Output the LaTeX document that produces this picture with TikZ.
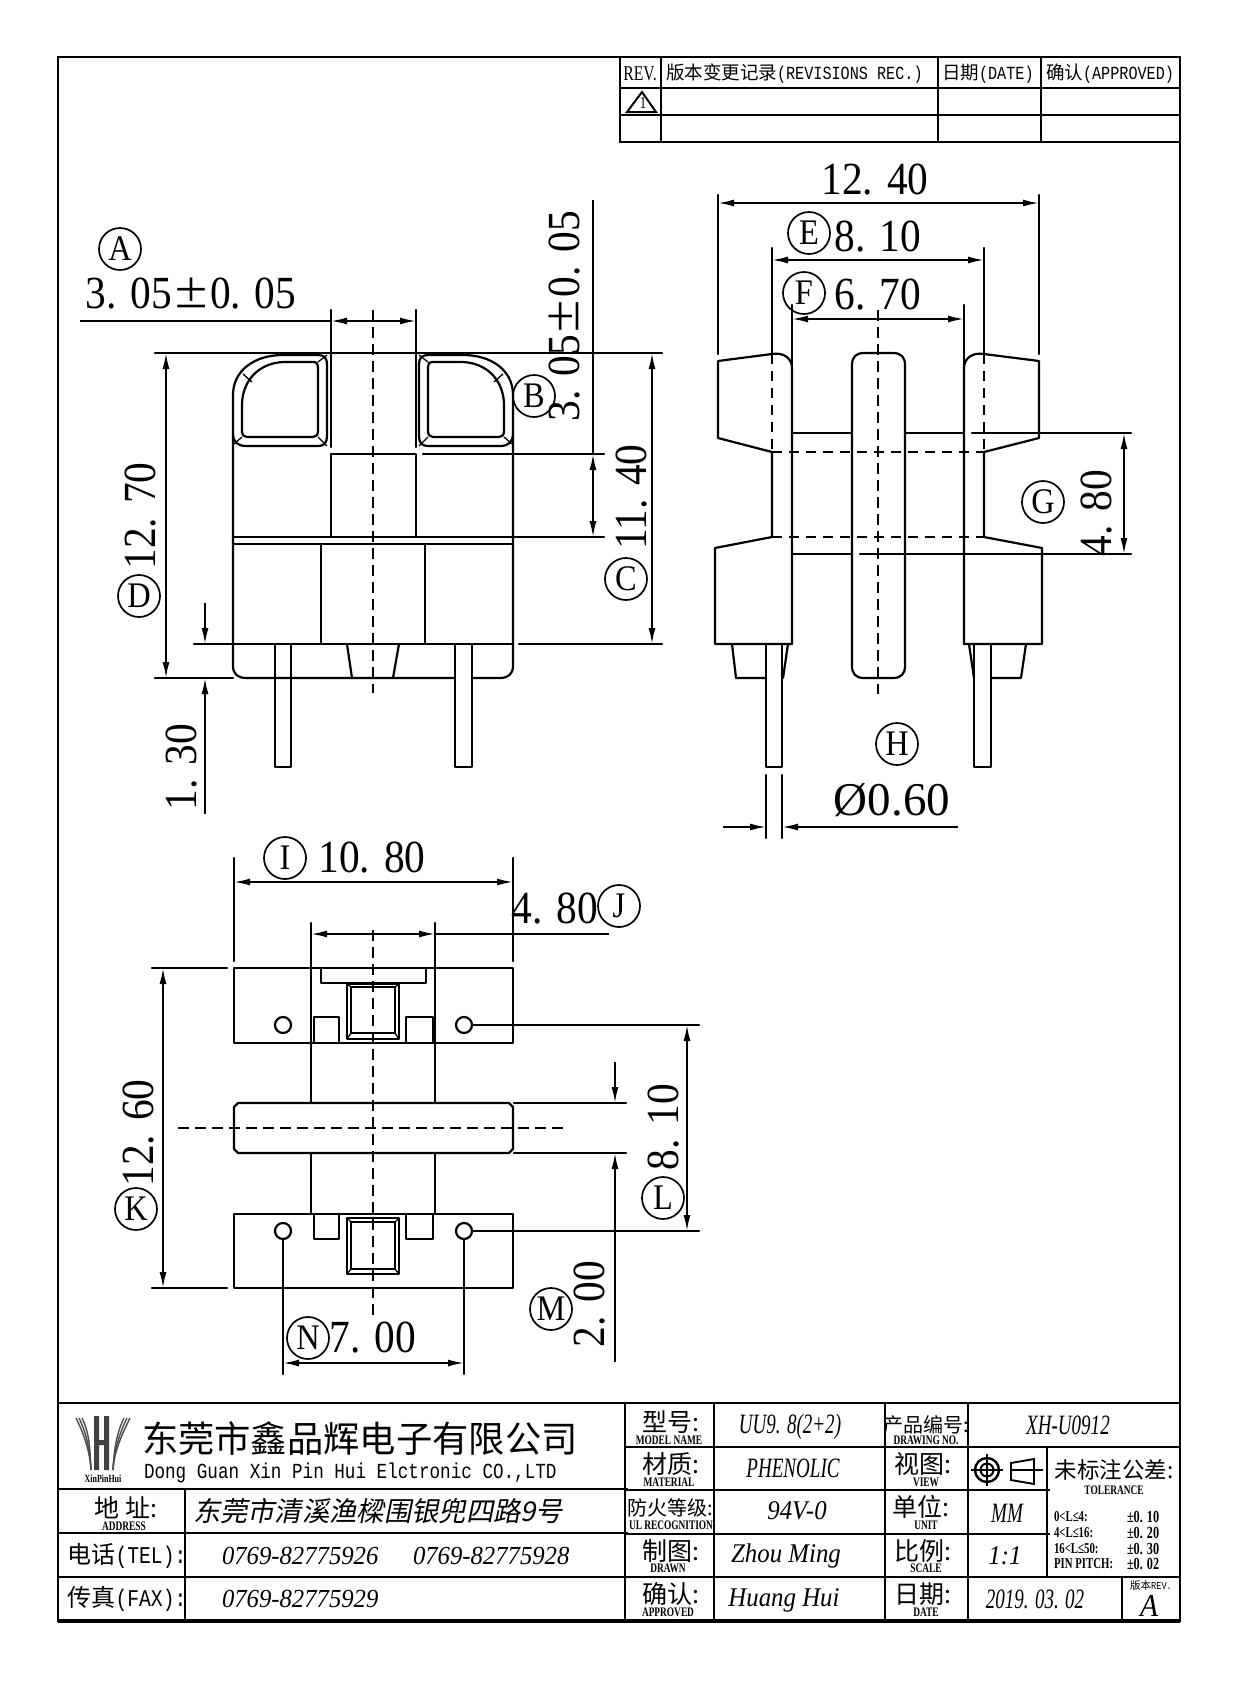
\documentclass[tikz,border=0pt]{standalone}
\usepackage{fontspec}
\usetikzlibrary{arrows.meta}
\setmainfont{Liberation Serif}
\newfontfamily\dimf[FakeStretch=0.9]{Liberation Serif}
\newfontfamily\cjkf{Noto Sans CJK SC}
\newfontfamily\cjki[FakeSlant=0.2]{Noto Sans CJK SC}
\newfontfamily\cmon[FakeStretch=0.82]{Liberation Mono}
\newfontfamily\cser[FakeStretch=0.75]{Liberation Serif}
\newfontfamily\cserb[FakeStretch=0.72]{Liberation Serif Bold}
\newfontfamily\cit[FakeStretch=0.92]{Liberation Serif Italic}
\newfontfamily\citn[FakeStretch=0.68]{Liberation Serif Italic}
\newfontfamily\telf[FakeStretch=0.95]{Liberation Serif Italic}
\newcommand{\fsz}[1]{\fontsize{#1}{#1}\selectfont}
\newcommand{\wpm}{{\cjkf\fsz{38}±}}
\tikzset{
  >={Latex[length=16pt,width=7pt]},
  part/.style={line width=2.2pt,line cap=round,line join=round},
  thin part/.style={line width=1.3pt,line join=round},
  dimline/.style={line width=1.8pt},
  cline/.style={line width=1.8pt,dash pattern=on 11pt off 6pt},
  hid/.style={line width=2pt,dash pattern=on 10pt off 7pt},
  grid/.style={line width=2.4pt},
  lbl/.style={inner sep=0pt,outer sep=0pt},
  dimt/.style={lbl,font=\dimf\fsz{46}},
  circ/.style={draw,circle,minimum size=42pt,inner sep=0pt,line width=1.7pt,font=\dimf\fsz{36}},
  cnh/.style={lbl,font=\cjkf\fsz{25}},
  sm/.style={lbl,font=\cserb\fsz{13}},
  itv/.style={lbl,font=\cit\fsz{27}},
  itn/.style={lbl,font=\citn\fsz{28}},
  tel/.style={lbl,anchor=west,font=\telf\fsz{26}},
  rv/.style={lbl,anchor=west,font=\cjkf\fsz{18.5}},
  tol/.style={lbl,anchor=west,font=\cserb\fsz{15}},
  tolr/.style={lbl,anchor=west,font=\cserb\fsz{17}},
  hole/.style={draw,circle,line width=2.2pt,minimum size=16pt,inner sep=0pt}
}
\begin{document}
\begin{tikzpicture}[x=1pt,y=-1pt]
\useasboundingbox (0,0) rectangle (1240,1682);
\fill[white] (0,0) rectangle (1240,1682);
% frame
\draw[line width=2.8pt] (58,57) rectangle (1180,1621);
\draw[line width=4.5pt] (58,1621) -- (1180,1621);
% revision table
\draw[grid] (620,57) -- (620,142) -- (1180,142);
\draw[grid] (620,88) -- (1180,88) (620,115) -- (1180,115);
\draw[grid] (661,57) -- (661,142) (938,57) -- (938,142) (1041,57) -- (1041,142);
\node[lbl,font=\cser\fsz{21}] (rv0) at (640,74) {REV.};
\node[rv] (rv1) at (666,74) {版本变更记录{\cmon(REVISIONS REC.)}};
\node[rv] (rv2) at (942,74) {日期{\cmon(DATE)}};
\node[rv] (rv3) at (1046,74) {确认{\cmon(APPROVED)}};
\draw[line width=2pt] (642,92) -- (627,112) -- (656,112) -- cycle;
\node[lbl,font=\cser\fsz{17}] (rv4) at (643,103) {1};
% ---- front view
\draw[cline] (373,310) -- (373,693);
\draw[part] (331,310) -- (331,447) (416,310) -- (416,447);
\draw[dimline,<->] (331,321) -- (416,321);
\draw[dimline] (80,321) -- (331,321);
\draw[part] (155,353) -- (662,353);
\draw[part] (233,395) .. controls (233,370) and (255,355) .. (283,355) -- (318,355) .. controls (324,355) and (327,358) .. (327,364) -- (327,436) .. controls (327,443) and (324,446) .. (318,446) -- (246,446) .. controls (238,446) and (233,442) .. (233,434);
\draw[part] (242,405) .. controls (242,380) and (260,362) .. (285,362) -- (313,362) .. controls (317,362) and (318,364) .. (318,367) -- (318,431) .. controls (318,435) and (316,437) .. (313,437) -- (247,437) .. controls (244,437) and (242,435) .. (242,431) -- cycle;
\draw[thin part] (318,362) -- (327,355) (318,437) -- (327,446) (242,437) -- (234,444) (252,382) -- (243,374);
\begin{scope}[xscale=-1,xshift=-746pt]
\draw[part] (233,395) .. controls (233,370) and (255,355) .. (283,355) -- (318,355) .. controls (324,355) and (327,358) .. (327,364) -- (327,436) .. controls (327,443) and (324,446) .. (318,446) -- (246,446) .. controls (238,446) and (233,442) .. (233,434);
\draw[part] (242,405) .. controls (242,380) and (260,362) .. (285,362) -- (313,362) .. controls (317,362) and (318,364) .. (318,367) -- (318,431) .. controls (318,435) and (316,437) .. (313,437) -- (247,437) .. controls (244,437) and (242,435) .. (242,431) -- cycle;
\draw[thin part] (318,362) -- (327,355) (318,437) -- (327,446) (242,437) -- (234,444) (252,382) -- (243,374);
\end{scope}
\draw[part] (233,395) -- (233,666) .. controls (233,674) and (238,678) .. (246,678) -- (455,678);
\draw[part] (513,395) -- (513,666) .. controls (513,674) and (508,678) .. (500,678) -- (472,678);
\draw[part] (331,537) -- (331,454) -- (416,454) -- (416,537);
\draw[part] (423,454) -- (604,454);
\draw[part] (233,537) -- (604,537);
\draw[part] (233,544) -- (513,544);
\draw[part] (321,544) -- (321,644) (425,544) -- (425,644);
\draw[part] (194,644) -- (513,644) (519,644) -- (662,644);
\draw[part] (155,678) -- (233,678);
\draw[part] (275,644) -- (275,767) -- (291,767) -- (291,644);
\draw[part] (455,644) -- (455,767) -- (472,767) -- (472,644);
\draw[part] (347,644) -- (352,678) (399,644) -- (393,678);
% dims front
\draw[dimline,<->] (166,353) -- (166,678);
\draw[dimline,->] (205,603) -- (205,644);
\draw[dimline,<-] (205,678) -- (205,814);
\draw[dimline] (593,200) -- (593,454);
\draw[dimline,<->] (593,454) -- (593,537);
\draw[dimline,<->] (652,353) -- (652,644);
\node[circ] (ca) at (120,249) {A};
\node[dimt] (ta) at (191,294) {3. 05\wpm0. 05};
\node[circ] (cb) at (534,396) {B};
\node[dimt,rotate=90] (tb) at (565,316) {3. 05\wpm0. 05};
\node[circ] (cc) at (626,579) {C};
\node[dimt,rotate=90] (tc) at (632,497) {11. 40};
\node[circ] (cd) at (139,596) {D};
\node[dimt,rotate=90] (td) at (141,516) {12. 70};
\node[dimt,rotate=90] (te) at (182,767) {1. 30};
% ---- side view
\draw[cline] (878,310) -- (878,694);
\draw[part] (718,195) -- (718,354) (1039,195) -- (1039,354);
\draw[part] (772,248) -- (772,354) (984,248) -- (984,354);
\draw[part] (792,305) -- (792,366) (964,305) -- (964,366);
\draw[dimline,<->] (718,203) -- (1039,203);
\draw[dimline,<->] (772,260) -- (984,260);
\draw[dimline,<->] (792,319) -- (964,319);
% flanges
\draw[part] (772,452) -- (718,438) -- (718,361) -- (772,354) .. controls (783,352) and (792,358) .. (792,368) -- (792,644);
\draw[part] (984,452) -- (1039,438) -- (1039,361) -- (984,354) .. controls (973,352) and (964,358) .. (964,368) -- (964,644);
\draw[part] (772,452) -- (772,537) -- (715,548) -- (715,644) -- (792,644);
\draw[part] (984,452) -- (984,537) -- (1042,548) -- (1042,644) -- (964,644);
\draw[hid] (772,354) -- (772,452) (984,354) -- (984,452);
\draw[hid] (772,452) -- (984,452) (772,537) -- (984,537);
\draw[part] (852,365) .. controls (852,357) and (856,353) .. (864,353) -- (893,353) .. controls (901,353) and (905,357) .. (905,365) -- (905,666) .. controls (905,674) and (901,678) .. (893,678) -- (864,678) .. controls (856,678) and (852,674) .. (852,666) -- cycle;
\draw[part] (792,433) -- (852,433) (905,433) -- (964,433) (972,433) -- (1131,433);
\draw[part] (792,554) -- (852,554) (860,554) -- (1131,554);
\draw[part] (732,644) -- (736,678) -- (766,678) (788,644) -- (783,678);
\draw[part] (1026,644) -- (1021,678) -- (991,678) (969,644) -- (974,678);
\draw[part] (766,644) -- (766,767) -- (782,767) -- (782,644);
\draw[part] (974,644) -- (974,767) -- (991,767) -- (991,644);
\draw[dimline,<->] (1124,433) -- (1124,554);
\draw[part] (766,775) -- (766,838) (782,775) -- (782,838);
\draw[dimline,->] (723,827) -- (766,827);
\draw[dimline,<-] (782,827) -- (958,827);
\node[dimt] (t1240) at (875,180) {12. 40};
\node[circ] (ce) at (809,233) {E};
\node[dimt] (t810) at (878,237) {8. 10};
\node[circ] (cf) at (804,293) {F};
\node[dimt] (t670) at (878,295) {6. 70};
\node[circ] (cg) at (1043,502) {G};
\node[dimt,rotate=90] (t480) at (1097,513) {4. 80};
\node[circ] (ch) at (897,744) {H};
\node[lbl,font=\fsz{47}] (t060) at (892,800) {Ø0.60};
% ---- top view
\draw[cline] (373,930) -- (373,1321);
\draw[cline] (178,1128) -- (568,1128);
\draw[part] (234,968) rectangle (513,1043);
\draw[part] (234,1214) rectangle (513,1288);
\draw[part] (238,1103) -- (509,1103) -- (513,1107) -- (513,1149) -- (509,1153) -- (238,1153) -- (234,1149) -- (234,1107) -- cycle;
\draw[part] (311,923) -- (311,1103) (435,923) -- (435,1103);
\draw[part] (311,1153) -- (311,1214) (435,1153) -- (435,1214);
\draw[part] (321,968) -- (321,983) -- (426,983) -- (426,968);
\draw[part] (347,984) rectangle (399,1039);
\draw[part] (351,987) rectangle (395,1033);
\draw[thin part] (347,984) -- (351,987) (399,984) -- (395,987) (347,1039) -- (351,1033) (399,1039) -- (395,1033);
\draw[part] (347,1218) rectangle (399,1274);
\draw[part] (351,1222) rectangle (395,1269);
\draw[thin part] (347,1218) -- (351,1222) (399,1218) -- (395,1222) (347,1274) -- (351,1269) (399,1274) -- (395,1269);
\draw[part] (314,1043) -- (314,1017) -- (339,1017) -- (339,1043);
\draw[part] (406,1043) -- (406,1017) -- (433,1017) -- (433,1043);
\draw[part] (314,1214) -- (314,1239) -- (339,1239) -- (339,1214);
\draw[part] (406,1214) -- (406,1239) -- (433,1239) -- (433,1214);
\node[hole] (h1) at (283,1025) {};
\node[hole] (h2) at (464,1025) {};
\node[hole] (h3) at (283,1231) {};
\node[hole] (h4) at (464,1231) {};
\coordinate (r1) at (699,1025);
\coordinate (r2) at (699,1231);
\draw[part] (h2) -- (r1) (h4) -- (r2);
\draw[part] (h3) -- (283,1374) (h4) -- (464,1374);
\draw[part] (234,858) -- (234,961) (513,858) -- (513,961);
\draw[dimline,<->] (234,882) -- (513,882);
\draw[dimline,<->] (311,934) -- (435,934);
\draw[dimline] (435,934) -- (609,934);
\draw[part] (152,968) -- (227,968) (152,1288) -- (227,1288);
\draw[dimline,<->] (163,968) -- (163,1288);
\draw[part] (514,1103) -- (626,1103) (514,1153) -- (626,1153);
\draw[dimline,->] (615,1062) -- (615,1103);
\draw[dimline,<-] (615,1153) -- (615,1362);
\draw[dimline,<->] (687,1025) -- (687,1231);
\draw[dimline,<->] (283,1363) -- (464,1363);
\node[circ] (ci) at (285,858) {I};
\node[dimt] (t1080) at (372,858) {10. 80};
\node[dimt] (tj) at (555,909) {4. 80};
\node[circ] (cj) at (619,906) {J};
\node[circ] (ck) at (136,1209) {K};
\node[dimt,rotate=90] (t1260) at (139,1133) {12. 60};
\node[circ] (cl) at (663,1198) {L};
\node[dimt,rotate=90] (tl) at (664,1127) {8. 10};
\node[circ] (cm) at (551,1309) {M};
\node[dimt,rotate=90] (tm) at (590,1304) {2. 00};
\node[circ] (cn) at (308,1338) {N};
\node[dimt] (tn) at (373,1338) {7. 00};
% ---- title block
\draw[grid] (58,1403) -- (1180,1403);
\draw[grid] (58,1489) -- (628,1489) (58,1533) -- (628,1533) (58,1577) -- (628,1577);
\draw[grid] (185,1489) -- (185,1621);
\draw[grid] (625,1403) -- (625,1621);
\draw[grid] (625,1447) -- (1180,1447);
\draw[grid] (625,1490) -- (1050,1490);
\draw[grid] (625,1534) -- (1050,1534);
\draw[grid] (625,1577) -- (1180,1577);
\draw[grid] (714,1403) -- (714,1621);
\draw[grid] (885,1403) -- (885,1621);
\draw[grid] (968,1403) -- (968,1621);
\draw[grid] (1047,1447) -- (1047,1577);
\draw[grid] (1122,1577) -- (1122,1621);
% logo
\fill[black!75] (94,1416) rectangle (99,1470) (104,1416) rectangle (109,1470) (99,1440) rectangle (104,1445);
\foreach \d in {0,3,6}{
  \draw[line width=1.4pt,black!70] (76+\d,1418) .. controls (84+\d,1434) and (90,1452) .. (91,1470);
  \draw[line width=1.4pt,black!70] (130-\d,1418) .. controls (122-\d,1434) and (114,1452) .. (113,1470);
}
\node[lbl,font=\cserb\fsz{11}] (logo) at (103,1479) {XinPinHui};
\node[lbl,anchor=west,font=\cjkf\fsz{36.3}] (co1) at (142,1439) {东莞市鑫品辉电子有限公司};
\node[lbl,anchor=west,font=\cmon\fsz{21.5}] (co2) at (144,1473) {Dong Guan Xin Pin Hui Elctronic CO.,LTD};
\node[cnh] (a1) at (126,1508) {地 址:};
\node[sm] (a2) at (124,1526) {ADDRESS};
\node[lbl,anchor=west,font=\cjki\fsz{27.3}] (a3) at (193,1511) {东莞市清溪渔樑围银兜四路9号};
\node[lbl,font=\cjkf\fsz{24}] (a4) at (127,1556) {电话{\cmon(TEL):}};
\node[lbl,font=\cjkf\fsz{24}] (a5) at (127,1599) {传真{\cmon(FAX):}};
\node[tel] (a6) at (222,1556) {0769-82775926};
\node[tel] (a7) at (413,1556) {0769-82775928};
\node[tel] (a8) at (222,1599) {0769-82775929};
% middle labels
\node[cnh] (m1) at (671,1422) {型号:};
\node[sm] (m1b) at (669,1440) {MODEL NAME};
\node[cnh] (m2) at (671,1464) {材质:};
\node[sm] (m2b) at (669,1482) {MATERIAL};
\node[lbl,font=\cjkf\fsz{20}] (m3) at (670,1508) {防火等级:};
\node[sm] (m3b) at (671,1525) {UL RECOGNITION};
\node[cnh] (m4) at (671,1551) {制图:};
\node[sm] (m4b) at (668,1568) {DRAWN};
\node[cnh] (m5) at (671,1594) {确认:};
\node[sm] (m5b) at (668,1612) {APPROVED};
\node[itn] (v1) at (790,1427) {UU9. 8(2+2)};
\node[itn] (v2) at (793,1468) {PHENOLIC};
\node[itv] (v3) at (797,1511) {94V-0};
\node[itv] (v4) at (786,1556) {Zhou Ming};
\node[itv] (v5) at (784,1600) {Huang Hui};
\node[lbl,font=\cjkf\fsz{20}] (r1t) at (926,1425) {产品编号:};
\node[sm] (r1b) at (926,1440) {DRAWING NO.};
\node[cnh] (r2t) at (923,1464) {视图:};
\node[sm] (r2b) at (926,1482) {VIEW};
\node[cnh] (r3t) at (921,1507) {单位:};
\node[sm] (r3b) at (926,1525) {UNIT};
\node[cnh] (r4t) at (923,1551) {比例:};
\node[sm] (r4b) at (926,1568) {SCALE};
\node[cnh] (r5t) at (923,1594) {日期:};
\node[sm] (r5b) at (926,1612) {DATE};
\node[itn] (x1) at (1068,1425) {XH-U0912};
\node[itn] (x2) at (1007,1513) {MM};
\node[itv] (x3) at (1005,1556) {1:1};
\node[itn] (x4) at (1035,1599) {2019. 03. 02};
% symbol
\node[draw,circle,line width=2.4pt,minimum size=24pt,inner sep=0pt] (s1) at (987,1470) {};
\node[draw,circle,line width=2pt,minimum size=13pt,inner sep=0pt] (s2) at (987,1470) {};
\draw[line width=1.8pt] (971,1470) -- (1003,1470) (987,1454) -- (987,1486);
\draw[line width=1.9pt] (1011,1463) -- (1011,1480) -- (1034,1484) -- (1034,1459) -- cycle (1011,1470) -- (1043,1470);
\node[lbl,font=\cjkf\fsz{22.5}] (t1) at (1114,1470) {未标注公差:};
\node[sm] (t2) at (1114,1490) {TOLERANCE};
\node[tol] (t3) at (1054,1517) {0<L≤4:};
\node[tol] (t4) at (1054,1533) {4<L≤16:};
\node[tol] (t5) at (1054,1549) {16<L≤50:};
\node[tol] (t6) at (1054,1564) {PIN PITCH:};
\node[tolr] (t7) at (1127,1517) {±0. 10};
\node[tolr] (t8) at (1127,1533) {±0. 20};
\node[tolr] (t9) at (1127,1549) {±0. 30};
\node[tolr] (t10) at (1127,1564) {±0. 02};
\node[lbl,font=\cjkf\fsz{10.5}] (t11) at (1151,1586) {版本{\cmon REV.}};
\node[lbl,font=\cit\fsz{32}] (t12) at (1149,1606) {A};
\end{tikzpicture}
\end{document}
